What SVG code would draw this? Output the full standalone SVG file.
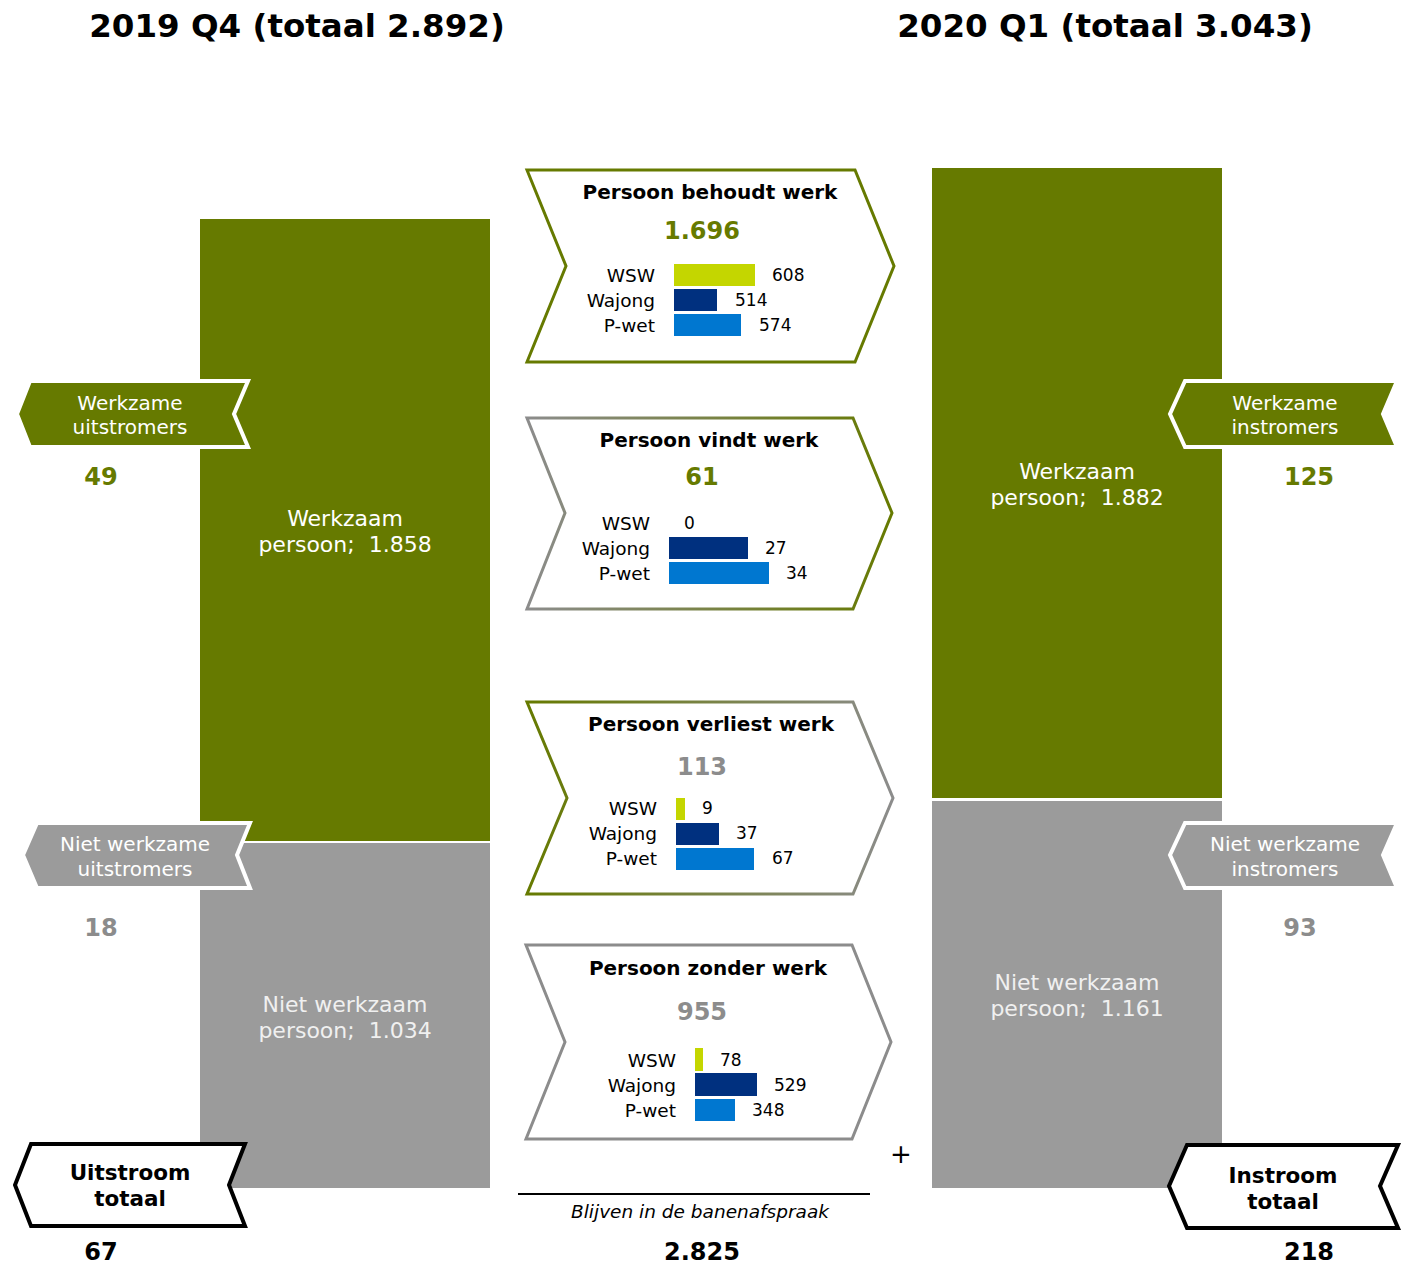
<svg xmlns="http://www.w3.org/2000/svg" width="1406" height="1265" viewBox="0 0 1406 1265">
<style>
text{font-family:"DejaVu Sans","Verdana",sans-serif}
.title{font-size:32.5px;font-weight:bold;fill:#000;text-anchor:middle}
.barlbl{font-size:22px;fill:#fff;text-anchor:middle}
.barlblg{font-size:22px;fill:#f0f0f0;text-anchor:middle}
.ban{font-size:20px;fill:#fff;text-anchor:middle}
.tot{font-size:21.5px;font-weight:bold;fill:#000;text-anchor:middle}
.num{font-size:24px;font-weight:bold;text-anchor:middle}
.bt{font-size:20px;font-weight:bold;fill:#000;text-anchor:middle}
.bn{font-size:24px;font-weight:bold;text-anchor:middle}
.lb{font-size:18.5px;fill:#000;text-anchor:end}
.val{font-size:17px;fill:#000}
.green{fill:#667a00}
.grey{fill:#8c8c8c}
.blk{fill:#000}
.wsw{fill:#c4d600}
.waj{fill:#00307f}
.pw{fill:#0077d0}
.box{fill:#fff;stroke-width:3}
</style>
<defs>
<linearGradient id="g2gr" x1="0" y1="0" x2="1" y2="0"><stop offset="0" stop-color="#8c8c8c"/><stop offset="1" stop-color="#667a00"/></linearGradient>
<linearGradient id="gr2g" x1="0" y1="0" x2="1" y2="0"><stop offset="0" stop-color="#667a00"/><stop offset="1" stop-color="#8c8c8c"/></linearGradient>
</defs>

<text class="title" x="297" y="37">2019 Q4 (totaal 2.892)</text>
<text class="title" x="1105" y="37">2020 Q1 (totaal 3.043)</text>

<g id="left-werkzaam">
<rect x="200" y="219" width="290" height="622" fill="#667a00"/>
<text class="barlbl" x="345" y="526">Werkzaam</text>
<text class="barlbl" x="345" y="552" xml:space="preserve">persoon;  1.858</text>
</g>
<g id="left-niet">
<rect x="200" y="843" width="290" height="345" fill="#9b9b9b"/>
<text class="barlblg" x="345" y="1012">Niet werkzaam</text>
<text class="barlblg" x="345" y="1038" xml:space="preserve">persoon;  1.034</text>
</g>
<g id="right-werkzaam">
<rect x="932" y="168" width="290" height="630" fill="#667a00"/>
<text class="barlbl" x="1077" y="479">Werkzaam</text>
<text class="barlbl" x="1077" y="505" xml:space="preserve">persoon;  1.882</text>
</g>
<g id="right-niet">
<rect x="932" y="801" width="290" height="387" fill="#9b9b9b"/>
<text class="barlblg" x="1077" y="990">Niet werkzaam</text>
<text class="barlblg" x="1077" y="1016" xml:space="preserve">persoon;  1.161</text>
</g>

<g id="werkzame-uitstromers">
<polygon points="30,381 248,381 234,414 248,447 30,447 17,414" fill="#667a00" stroke="#fff" stroke-width="4"/>
<text class="ban" x="130" y="410">Werkzame</text>
<text class="ban" x="130" y="434">uitstromers</text>
<text class="num green" x="101" y="485">49</text>
</g>
<g id="werkzame-instromers">
<polygon points="1185,381 1397,381 1383,414 1397,447 1185,447 1170,414" fill="#667a00" stroke="#fff" stroke-width="4"/>
<text class="ban" x="1285" y="410">Werkzame</text>
<text class="ban" x="1285" y="434">instromers</text>
<text class="num green" x="1309" y="485">125</text>
</g>
<g id="niet-werkzame-uitstromers">
<polygon points="37,823 250,823 237,855 250,888 37,888 23,855" fill="#9b9b9b" stroke="#fff" stroke-width="4"/>
<text class="ban" x="135" y="851">Niet werkzame</text>
<text class="ban" x="135" y="876">uitstromers</text>
<text class="num grey" x="101" y="936">18</text>
</g>
<g id="niet-werkzame-instromers">
<polygon points="1185,823 1397,823 1383,855 1397,888 1185,888 1170,855" fill="#9b9b9b" stroke="#fff" stroke-width="4"/>
<text class="ban" x="1285" y="851">Niet werkzame</text>
<text class="ban" x="1285" y="876">instromers</text>
<text class="num grey" x="1300" y="936">93</text>
</g>
<g id="uitstroom-totaal">
<polygon points="31,1144 245,1144 229,1185 245,1226 31,1226 15,1185" fill="#fff" stroke="#000" stroke-width="4"/>
<text class="tot" x="130" y="1180">Uitstroom</text>
<text class="tot" x="130" y="1206">totaal</text>
<text class="num blk" x="101" y="1260">67</text>
</g>
<g id="instroom-totaal">
<polygon points="1187,1145 1398,1145 1380,1186 1398,1228 1187,1228 1169,1186" fill="#fff" stroke="#000" stroke-width="4"/>
<text class="tot" x="1283" y="1183">Instroom</text>
<text class="tot" x="1283" y="1209">totaal</text>
<text class="num blk" x="1309" y="1260">218</text>
</g>

<g id="behoudt">
<polygon class="box" points="527,170 855,170 894,266 855,362 527,362 566,266" stroke="#667a00"/>
<text class="bt" x="710" y="199">Persoon behoudt werk</text>
<text class="bn green" x="702" y="239">1.696</text>
<text class="lb" x="655" y="282">WSW</text>
<text class="lb" x="655" y="307">Wajong</text>
<text class="lb" x="655" y="332">P-wet</text>
<rect class="wsw" x="674" y="264" width="81" height="22"/>
<rect class="waj" x="674" y="289" width="43" height="22"/>
<rect class="pw" x="674" y="314" width="67" height="22"/>
<text class="val" x="772" y="281">608</text>
<text class="val" x="735" y="306">514</text>
<text class="val" x="759" y="331">574</text>
</g>
<g id="vindt">
<polygon class="box" points="527,418 853,418 892,513 853,609 527,609 565,513" stroke="url(#g2gr)"/>
<text class="bt" x="709" y="447">Persoon vindt werk</text>
<text class="bn green" x="702" y="485">61</text>
<text class="lb" x="650" y="530">WSW</text>
<text class="lb" x="650" y="555">Wajong</text>
<text class="lb" x="650" y="580">P-wet</text>
<rect class="waj" x="669" y="537" width="79" height="22"/>
<rect class="pw" x="669" y="562" width="100" height="22"/>
<text class="val" x="684" y="529">0</text>
<text class="val" x="765" y="554">27</text>
<text class="val" x="786" y="579">34</text>
</g>
<g id="verliest">
<polygon class="box" points="527,702 853,702 893,798 853,894 527,894 567,798" stroke="url(#gr2g)"/>
<text class="bt" x="711" y="731">Persoon verliest werk</text>
<text class="bn grey" x="702" y="775">113</text>
<text class="lb" x="657" y="815">WSW</text>
<text class="lb" x="657" y="840">Wajong</text>
<text class="lb" x="657" y="865">P-wet</text>
<rect class="wsw" x="676" y="798" width="9" height="22"/>
<rect class="waj" x="676" y="823" width="43" height="22"/>
<rect class="pw" x="676" y="848" width="78" height="22"/>
<text class="val" x="702" y="814">9</text>
<text class="val" x="736" y="839">37</text>
<text class="val" x="772" y="864">67</text>
</g>
<g id="zonder">
<polygon class="box" points="526,945 852,945 891,1042 852,1139 526,1139 565,1042" stroke="#8c8c8c"/>
<text class="bt" x="708" y="975">Persoon zonder werk</text>
<text class="bn grey" x="702" y="1020">955</text>
<text class="lb" x="676" y="1067">WSW</text>
<text class="lb" x="676" y="1092">Wajong</text>
<text class="lb" x="676" y="1117">P-wet</text>
<rect class="wsw" x="695" y="1048" width="8" height="23"/>
<rect class="waj" x="695" y="1073" width="62" height="23"/>
<rect class="pw" x="695" y="1099" width="40" height="22"/>
<text class="val" x="720" y="1066">78</text>
<text class="val" x="774" y="1091">529</text>
<text class="val" x="752" y="1116">348</text>
</g>

<g id="connectors">
<line x1="518" y1="1194" x2="870" y2="1194" stroke="#000" stroke-width="2"/>
</g>
<text x="901" y="1163" font-size="26" text-anchor="middle" fill="#000">+</text>
<text x="700" y="1218" font-size="18.5" font-style="italic" text-anchor="middle" fill="#000">Blijven in de banenafspraak</text>
<text class="num blk" x="702" y="1260">2.825</text>
</svg>
